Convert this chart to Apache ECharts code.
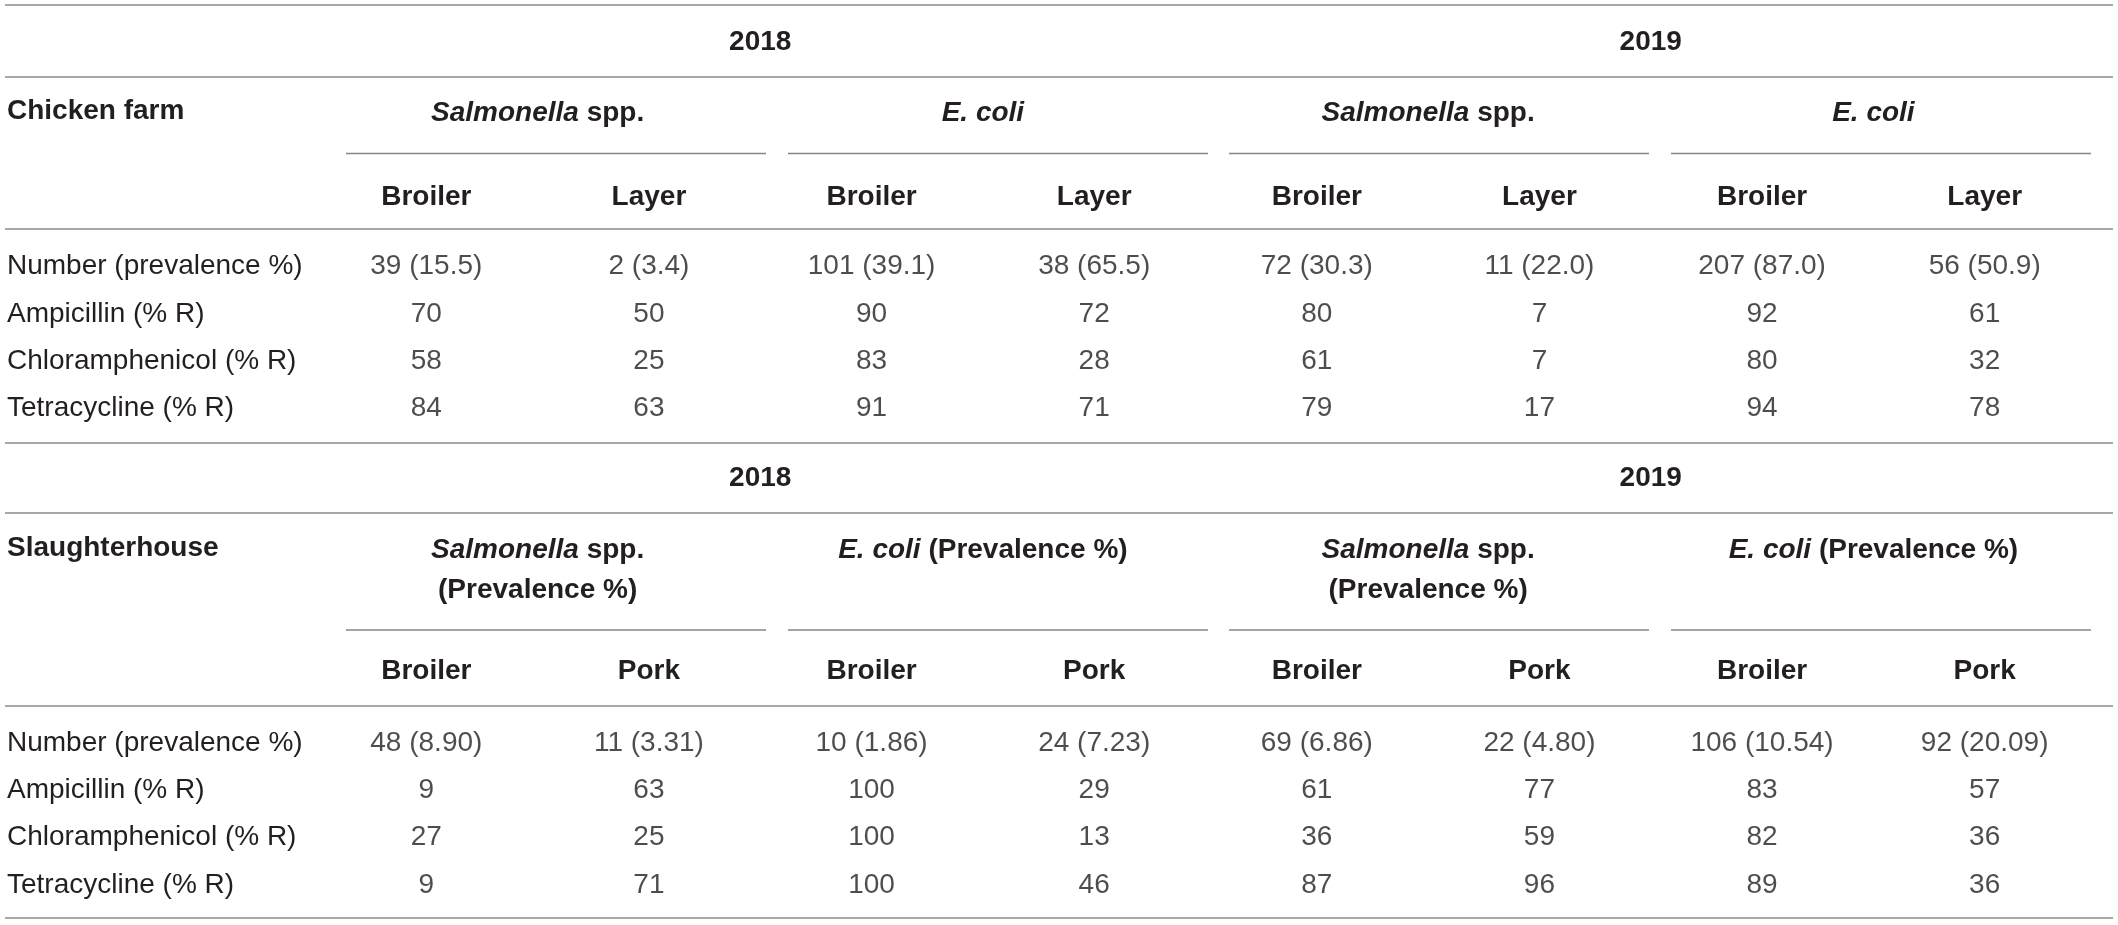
<!DOCTYPE html>
<html>
<head>
<meta charset="utf-8">
<script src="https://cdn.jsdelivr.net/npm/echarts@6/dist/echarts.min.js"></script>
<style>
html,body{margin:0;padding:0;background:#fff;}
#c{width:2118px;height:925px;}
</style>
</head>
<body>
<div id="c"></div>
<script>
// ---- data ----
const years = ['2018', '2019'];
const farmGroups = ['Salmonella spp.', 'E. coli', 'Salmonella spp.', 'E. coli'];
const slaughterGroups = ['Salmonella spp.\n(Prevalence %)', 'E. coli (Prevalence %)', 'Salmonella spp.\n(Prevalence %)', 'E. coli (Prevalence %)'];
const farmCols = ['Broiler', 'Layer', 'Broiler', 'Layer', 'Broiler', 'Layer', 'Broiler', 'Layer'];
const slaughterCols = ['Broiler', 'Pork', 'Broiler', 'Pork', 'Broiler', 'Pork', 'Broiler', 'Pork'];
const rowLabels = ['Number (prevalence %)', 'Ampicillin (% R)', 'Chloramphenicol (% R)', 'Tetracycline (% R)'];

const farmNumber = [39, 2, 101, 38, 72, 11, 207, 56];
const farmPrevalence = [15.5, 3.4, 39.1, 65.5, 30.3, 22.0, 87.0, 50.9];
const farmAmpicillin = [70, 50, 90, 72, 80, 7, 92, 61];
const farmChloramphenicol = [58, 25, 83, 28, 61, 7, 80, 32];
const farmTetracycline = [84, 63, 91, 71, 79, 17, 94, 78];

const slNumber = [48, 11, 10, 24, 69, 22, 106, 92];
const slPrevalence = [8.90, 3.31, 1.86, 7.23, 6.86, 4.80, 10.54, 20.09];
const slAmpicillin = [9, 63, 100, 29, 61, 77, 83, 57];
const slChloramphenicol = [27, 25, 100, 13, 36, 59, 82, 36];
const slTetracycline = [9, 71, 100, 46, 87, 96, 89, 36];

// ---- build ----
const TXT = '#231f20';
const FONT = '"Liberation Sans", Arial, Helvetica, sans-serif';
const FS = 28;

function cells(num, prev, dec, amp, chl, tet) {
  const out = [];
  const rows = [
    num.map((n, i) => n + ' (' + prev[i].toFixed(dec) + ')'),
    amp.map(String), chl.map(String), tet.map(String)
  ];
  rows.forEach((r, ri) => r.forEach((t, ci) => out.push({ value: [ci, ri], text: t })));
  return out;
}
const farmCells = cells(farmNumber, farmPrevalence, 1, farmAmpicillin, farmChloramphenicol, farmTetracycline);
const slCells = cells(slNumber, slPrevalence, 2, slAmpicillin, slChloramphenicol, slTetracycline);

function groupFmt(v) {
  return v.split('\n').map(line => {
    if (line.indexOf('Salmonella') === 0) return '{i|Salmonella}{b| spp.}';
    if (line.indexOf('E. coli') === 0) {
      const rest = line.slice(7);
      return '{i|E. coli}' + (rest ? '{b|' + rest + '}' : '');
    }
    return '{b|' + line + '}';
  }).join('\n');
}
const rich = {
  i: { fontStyle: 'italic', fontWeight: 'bold', fontSize: FS, color: TXT, fontFamily: FONT, lineHeight: 40 },
  b: { fontWeight: 'bold', fontSize: FS, color: TXT, fontFamily: FONT, lineHeight: 40 }
};

const hidden = { axisLine: { show: false }, axisTick: { show: false }, splitLine: { show: false } };

function xAx(grid, data, margin, opts) {
  return Object.assign({
    type: 'category', gridIndex: grid, position: 'top', data: data,
    axisLabel: Object.assign({
      margin: margin, fontSize: FS, fontWeight: 'bold', color: TXT, fontFamily: FONT,
      verticalAlign: 'middle', interval: 0
    }, opts || {})
  }, hidden);
}
function yAx(grid) {
  return Object.assign({
    type: 'category', gridIndex: grid, inverse: true, data: rowLabels,
    axisLabel: { align: 'left', margin: 308, fontSize: FS, color: TXT, fontFamily: FONT, interval: 0 }
  }, hidden);
}

const FULL = { x1: 5, x2: 2113 };
const fullLines = [5, 77, 229, 443, 513, 706, 918];
const segs = [[346, 766], [788, 1208], [1229, 1649], [1671, 2091]];
const graphics = [];
fullLines.forEach(y => graphics.push({ type: 'line', shape: { x1: FULL.x1, y1: y, x2: FULL.x2, y2: y }, style: { stroke: '#a8a8a8', lineWidth: 2 } }));
[153.5, 630].forEach(y => segs.forEach(s => graphics.push({ type: 'line', shape: { x1: s[0], y1: y, x2: s[1], y2: y }, style: { stroke: '#858585', lineWidth: 1.6 } })));
graphics.push({ type: 'text', left: 7, top: 113 - 16, style: { text: 'Chicken farm', font: 'bold ' + FS + 'px ' + FONT, fill: TXT } });
graphics.push({ type: 'text', left: 7, top: 550 - 16, style: { text: 'Slaughterhouse', font: 'bold ' + FS + 'px ' + FONT, fill: TXT } });

const chart = echarts.init(document.getElementById('c'), null, { renderer: 'canvas' });
chart.setOption({
  backgroundColor: '#fff',
  animation: false,
  grid: [
    { left: 315, width: 1781, top: 243.1, height: 188.8, containLabel: false, outerBoundsMode: 'none' },
    { left: 315, width: 1781, top: 719.7, height: 188.8, containLabel: false, outerBoundsMode: 'none' }
  ],
  xAxis: [
    xAx(0, farmCols, 46),
    xAx(0, farmGroups, 130, { formatter: groupFmt, rich: rich }),
    xAx(0, years, 201),
    xAx(1, slaughterCols, 48),
    xAx(1, slaughterGroups, 189.7, { formatter: groupFmt, rich: rich, verticalAlign: 'top' }),
    xAx(1, years, 241.7)
  ],
  yAxis: [yAx(0), yAx(1)],
  series: [
    {
      type: 'scatter', xAxisIndex: 0, yAxisIndex: 0, data: farmCells, symbolSize: 1,
      itemStyle: { color: 'rgba(0,0,0,0)' },
      label: { show: true, position: 'inside', formatter: p => p.data.text, fontSize: FS, color: TXT, fontFamily: FONT }
    },
    {
      type: 'scatter', xAxisIndex: 3, yAxisIndex: 1, data: slCells, symbolSize: 1,
      itemStyle: { color: 'rgba(0,0,0,0)' },
      label: { show: true, position: 'inside', formatter: p => p.data.text, fontSize: FS, color: TXT, fontFamily: FONT }
    }
  ],
  graphic: graphics
});
</script>
</body>
</html>
